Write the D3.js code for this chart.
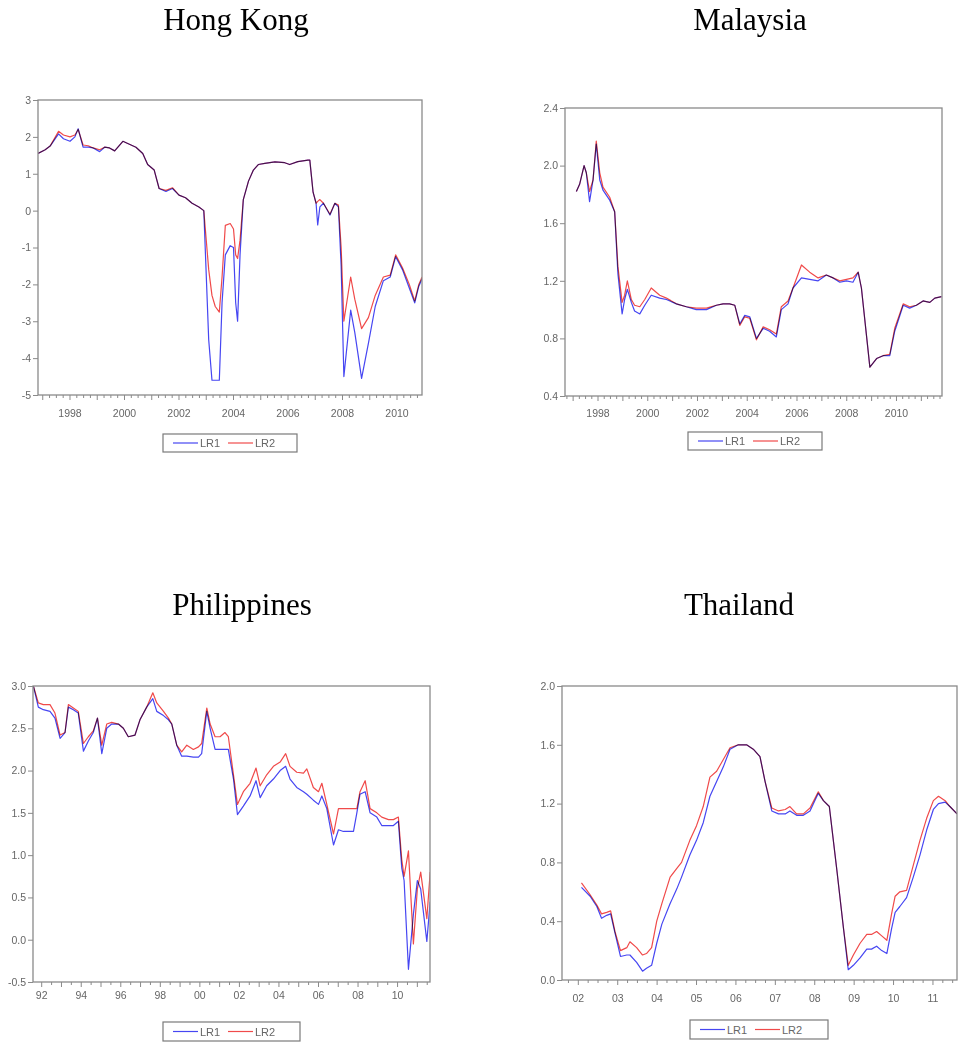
<!DOCTYPE html>
<html><head><meta charset="utf-8">
<script src="https://cdn.jsdelivr.net/npm/d3@7"></script>
<style>body{margin:0;background:#fff} svg{display:block}</style>
</head><body><svg id="c" width="959" height="1051"></svg>
<script>
// ---------- DATA ----------
const seriesNames = ["LR1", "LR2"];
const seriesColors = ["#4646f2", "#f04a4a"];

// Hong Kong
const hkTime = [1996.83,1997.09,1997.27,1997.58,1997.76,1998.0,1998.18,1998.3,1998.48,1998.67,1998.85,1999.09,1999.27,1999.45,1999.64,1999.94,2000.18,2000.42,2000.67,2000.85,2001.09,2001.27,2001.52,2001.76,2002.0,2002.24,2002.48,2002.73,2002.91,2003.09,2003.21,2003.33,2003.48,2003.58,2003.7,2003.88,2004.0,2004.08,2004.15,2004.24,2004.36,2004.55,2004.73,2004.91,2005.15,2005.52,2005.88,2006.06,2006.36,2006.73,2006.8,2006.92,2007.03,2007.09,2007.17,2007.3,2007.54,2007.72,2007.85,2007.95,2008.05,2008.3,2008.45,2008.7,2008.95,2009.2,2009.5,2009.75,2009.95,2010.2,2010.45,2010.65,2010.8,2010.92];
const hkLR1 = [1.55,1.65,1.75,2.08,1.95,1.88,2.0,2.22,1.72,1.72,1.7,1.6,1.72,1.7,1.62,1.88,1.8,1.72,1.55,1.25,1.1,0.6,0.52,0.6,0.42,0.35,0.2,0.1,0.0,-3.5,-4.6,-4.6,-4.6,-2.5,-1.2,-0.95,-1.0,-2.5,-3.0,-1.2,0.3,0.8,1.1,1.25,1.28,1.32,1.3,1.25,1.33,1.37,1.37,0.5,0.2,-0.39,0.1,0.2,-0.12,0.2,0.1,-1.5,-4.5,-2.7,-3.3,-4.55,-3.6,-2.6,-1.9,-1.8,-1.25,-1.6,-2.1,-2.5,-2.05,-1.85];
const hkLR2 = [1.55,1.65,1.75,2.15,2.05,2.0,2.05,2.2,1.78,1.76,1.7,1.65,1.72,1.7,1.62,1.88,1.8,1.72,1.55,1.25,1.1,0.6,0.55,0.62,0.42,0.35,0.2,0.1,0.0,-1.6,-2.3,-2.6,-2.75,-1.8,-0.4,-0.35,-0.5,-1.2,-1.3,-0.8,0.3,0.8,1.1,1.25,1.28,1.32,1.3,1.25,1.33,1.37,1.37,0.5,0.2,0.25,0.3,0.2,-0.1,0.2,0.15,-1.0,-3.0,-1.8,-2.4,-3.2,-2.9,-2.3,-1.8,-1.75,-1.2,-1.55,-2.0,-2.45,-2.0,-1.8];
const hkYTicks = [-5,-4,-3,-2,-1,0,1,2,3];
const hkXTicks = [1998,2000,2002,2004,2006,2008,2010];
const hkXLabels = ["1998","2000","2002","2004","2006","2008","2010"];

// Malaysia
const myTime = [1997.13,1997.26,1997.44,1997.53,1997.66,1997.8,1997.93,1998.07,1998.2,1998.47,1998.67,1998.8,1998.97,1999.07,1999.18,1999.34,1999.47,1999.68,1999.88,2000.14,2000.48,2000.75,2001.15,2001.55,2001.95,2002.36,2002.76,2003.03,2003.29,2003.5,2003.7,2003.9,2004.1,2004.37,2004.64,2004.9,2005.17,2005.37,2005.64,2005.84,2006.18,2006.51,2006.85,2007.18,2007.45,2007.72,2007.99,2008.25,2008.46,2008.59,2008.93,2009.2,2009.46,2009.73,2009.93,2010.27,2010.53,2010.8,2011.07,2011.34,2011.54,2011.81];
const myLR1 = [1.82,1.87,2.0,1.95,1.75,1.9,2.15,1.9,1.83,1.76,1.68,1.25,0.97,1.07,1.14,1.05,0.99,0.97,1.03,1.1,1.08,1.07,1.04,1.02,1.0,1.0,1.03,1.04,1.04,1.03,0.9,0.96,0.95,0.8,0.87,0.85,0.81,1.0,1.04,1.15,1.22,1.21,1.2,1.24,1.22,1.19,1.2,1.19,1.26,1.15,0.6,0.66,0.68,0.68,0.85,1.03,1.01,1.03,1.06,1.05,1.08,1.09];
const myLR2 = [1.82,1.87,2.0,1.95,1.82,1.9,2.17,1.95,1.85,1.78,1.68,1.3,1.05,1.1,1.2,1.07,1.03,1.02,1.07,1.15,1.1,1.08,1.04,1.02,1.01,1.01,1.03,1.04,1.04,1.03,0.89,0.95,0.94,0.79,0.88,0.86,0.83,1.02,1.06,1.15,1.31,1.26,1.22,1.24,1.22,1.2,1.21,1.22,1.26,1.15,0.6,0.66,0.68,0.69,0.87,1.04,1.02,1.03,1.06,1.05,1.08,1.09];
const myYTicks = [0.4,0.8,1.2,1.6,2.0,2.4];
const myXTicks = [1998,2000,2002,2004,2006,2008,2010];
const myXLabels = ["1998","2000","2002","2004","2006","2008","2010"];

// Philippines
const phTime = [1991.58,1991.83,1992.08,1992.42,1992.67,1992.93,1993.18,1993.35,1993.6,1993.85,1994.11,1994.36,1994.61,1994.82,1995.04,1995.29,1995.54,1995.88,1996.13,1996.38,1996.72,1996.97,1997.31,1997.62,1997.82,1998.16,1998.41,1998.58,1998.83,1999.08,1999.34,1999.67,1999.93,2000.09,2000.35,2000.52,2000.77,2001.02,2001.27,2001.44,2001.7,2001.9,2002.2,2002.54,2002.84,2003.05,2003.38,2003.72,2004.06,2004.34,2004.56,2004.9,2005.24,2005.41,2005.74,2006.0,2006.17,2006.42,2006.76,2007.01,2007.26,2007.77,2007.94,2008.1,2008.36,2008.61,2008.95,2009.2,2009.54,2009.79,2010.04,2010.21,2010.33,2010.55,2010.8,2011.0,2011.17,2011.48,2011.65];
const phLR1 = [3.0,2.75,2.72,2.7,2.62,2.38,2.45,2.75,2.72,2.68,2.23,2.35,2.45,2.62,2.2,2.5,2.55,2.55,2.5,2.4,2.42,2.6,2.75,2.85,2.7,2.65,2.6,2.55,2.3,2.17,2.17,2.16,2.16,2.2,2.7,2.5,2.25,2.25,2.25,2.25,1.9,1.48,1.58,1.7,1.88,1.68,1.82,1.9,2.0,2.05,1.9,1.8,1.75,1.72,1.65,1.6,1.7,1.55,1.12,1.3,1.28,1.28,1.5,1.72,1.75,1.5,1.45,1.35,1.35,1.35,1.4,0.85,0.7,-0.35,0.3,0.7,0.6,-0.02,0.45];
const phLR2 = [3.0,2.8,2.78,2.78,2.68,2.42,2.45,2.78,2.74,2.7,2.32,2.4,2.47,2.62,2.3,2.55,2.57,2.55,2.5,2.4,2.42,2.6,2.75,2.92,2.8,2.7,2.62,2.55,2.3,2.22,2.3,2.25,2.28,2.32,2.74,2.55,2.4,2.4,2.45,2.4,1.95,1.6,1.75,1.85,2.03,1.82,1.95,2.05,2.1,2.2,2.05,1.98,1.97,2.02,1.8,1.75,1.85,1.6,1.25,1.55,1.55,1.55,1.55,1.75,1.88,1.55,1.5,1.45,1.42,1.42,1.45,0.95,0.75,1.05,-0.05,0.6,0.8,0.25,0.8];
const phYTicks = [-0.5,0.0,0.5,1.0,1.5,2.0,2.5,3.0];
const phXTicks = [1992,1994,1996,1998,2000,2002,2004,2006,2008,2010];
const phXLabels = ["92","94","96","98","00","02","04","06","08","10"];

// Thailand
const thTime = [2002.08,2002.3,2002.47,2002.59,2002.72,2002.82,2002.93,2003.07,2003.23,2003.31,2003.48,2003.63,2003.73,2003.86,2003.99,2004.12,2004.33,2004.5,2004.62,2004.83,2005.0,2005.17,2005.34,2005.51,2005.68,2005.85,2006.06,2006.27,2006.44,2006.61,2006.74,2006.91,2007.08,2007.25,2007.37,2007.54,2007.71,2007.88,2008.09,2008.22,2008.37,2008.56,2008.73,2008.85,2008.98,2009.15,2009.32,2009.44,2009.57,2009.7,2009.83,2009.95,2010.04,2010.16,2010.33,2010.5,2010.67,2010.84,2011.01,2011.14,2011.31,2011.43,2011.61];
const thLR1 = [0.63,0.57,0.5,0.42,0.44,0.45,0.32,0.16,0.17,0.17,0.12,0.06,0.08,0.1,0.25,0.38,0.52,0.62,0.7,0.85,0.95,1.07,1.25,1.35,1.45,1.57,1.6,1.6,1.57,1.52,1.35,1.15,1.13,1.13,1.15,1.12,1.12,1.15,1.27,1.22,1.18,0.75,0.35,0.07,0.1,0.15,0.21,0.21,0.23,0.2,0.18,0.35,0.46,0.5,0.56,0.7,0.85,1.02,1.16,1.2,1.21,1.18,1.13];
const thLR2 = [0.66,0.58,0.51,0.45,0.46,0.47,0.33,0.2,0.22,0.26,0.22,0.17,0.18,0.22,0.4,0.52,0.7,0.76,0.8,0.95,1.05,1.18,1.38,1.42,1.5,1.58,1.6,1.6,1.57,1.52,1.35,1.17,1.15,1.16,1.18,1.13,1.13,1.17,1.28,1.22,1.18,0.75,0.35,0.1,0.17,0.25,0.31,0.31,0.33,0.3,0.27,0.45,0.57,0.6,0.61,0.78,0.95,1.1,1.22,1.25,1.22,1.18,1.13];
const thYTicks = [0.0,0.4,0.8,1.2,1.6,2.0];
const thXTicks = [2002,2003,2004,2005,2006,2007,2008,2009,2010,2011];
const thXLabels = ["02","03","04","05","06","07","08","09","10","11"];

// ---------- LAYOUT ----------
const hyph = f => (v => f(v).replace("\u2212", "-"));
const panels = [
  {id:"hk", title:"Hong Kong", titleX:236, titleY:30,
   left:38, right:422, top:100, bottom:395, xDomain:[1996.826,2010.917], yDomain:[-5,3],
   time:hkTime, s:[hkLR1,hkLR2], yTicks:hkYTicks, yFmt:hyph(d3.format("d")),
   xTicks:hkXTicks, xLabels:hkXLabels, minorStep:0.25, labelY:417,
   legend:{x:163,y:434,w:134,h:18}},
  {id:"my", title:"Malaysia", titleX:750, titleY:30,
   left:565, right:942, top:108, bottom:396, xDomain:[1996.673,2011.83], yDomain:[0.4,2.4],
   time:myTime, s:[myLR1,myLR2], yTicks:myYTicks, yFmt:hyph(d3.format(".1f")),
   xTicks:myXTicks, xLabels:myXLabels, minorStep:0.25, labelY:417,
   legend:{x:688,y:432,w:134,h:18}},
  {id:"ph", title:"Philippines", titleX:242, titleY:615,
   left:33, right:430, top:686, bottom:982, xDomain:[1991.56,2011.64], yDomain:[-0.5,3.0],
   time:phTime, s:[phLR1,phLR2], yTicks:phYTicks, yFmt:hyph(d3.format(".1f")),
   xTicks:phXTicks, xLabels:phXLabels, minorStep:0.5, labelY:999,
   legend:{x:163,y:1022,w:137,h:19}},
  {id:"th", title:"Thailand", titleX:739, titleY:615,
   left:562, right:957, top:686, bottom:980, xDomain:[2001.586,2011.61], yDomain:[0.0,2.0],
   time:thTime, s:[thLR1,thLR2], yTicks:thYTicks, yFmt:hyph(d3.format(".1f")),
   xTicks:thXTicks, xLabels:thXLabels, minorStep:0.25, labelY:1002,
   legend:{x:690,y:1020,w:138,h:19}}
];

const svg = d3.select("#c");
const axisFont = "'Liberation Sans', Arial, sans-serif";
const axisColor = "#666";

panels.forEach(p => {
  const x = d3.scaleLinear().domain(p.xDomain).range([p.left, p.right]);
  const y = d3.scaleLinear().domain(p.yDomain).range([p.bottom, p.top]);
  const g = svg.append("g");

  svg.append("text").attr("x", p.titleX).attr("y", p.titleY)
    .attr("text-anchor", "middle")
    .style("font-family", "'Liberation Serif','Times New Roman',serif")
    .style("font-size", "31px").style("fill", "#000").text(p.title);

  svg.append("clipPath").attr("id", "clip-" + p.id)
    .append("rect").attr("x", p.left).attr("y", p.top)
    .attr("width", p.right - p.left).attr("height", p.bottom - p.top);

  const lines = g.append("g").attr("clip-path", `url(#clip-${p.id})`);
  [1, 0].forEach(k => {
    const data = p.time.map((t, i) => [t, p.s[k][i]]);
    lines.append("path").datum(data)
      .attr("fill", "none").attr("stroke", seriesColors[k])
      .attr("stroke-width", 1.2).attr("stroke-linejoin", "round")
      .style("mix-blend-mode", "multiply")
      .attr("d", d3.line().x(d => x(d[0])).y(d => y(d[1])));
  });

  g.append("rect").attr("x", p.left).attr("y", p.top)
    .attr("width", p.right - p.left).attr("height", p.bottom - p.top)
    .attr("fill", "none").attr("stroke", "#8a8a8a").attr("stroke-width", 1.3);

  const ya = g.append("g").attr("transform", `translate(${p.left},0)`)
    .call(d3.axisLeft(y).tickValues(p.yTicks).tickFormat(p.yFmt).tickSize(5).tickPadding(2));
  ya.select(".domain").remove();
  ya.selectAll("line").attr("stroke", "#8a8a8a");
  ya.selectAll("text").style("font-family", axisFont).style("font-size", "10.5px").attr("fill", axisColor);

  const x0 = Math.ceil(p.xDomain[0] / p.minorStep) * p.minorStep;
  const minor = d3.range(x0, p.xDomain[1] + 1e-6, p.minorStep);
  const xa = g.append("g").attr("transform", `translate(0,${p.bottom})`);
  xa.selectAll("line.mn").data(minor).join("line").attr("class", "mn")
    .attr("x1", d => x(d)).attr("x2", d => x(d))
    .attr("y1", 0).attr("y2", d => Math.abs(d - Math.round(d)) < 1e-6 ? 5 : 3)
    .attr("stroke", "#8a8a8a").attr("stroke-width", 1);
  xa.selectAll("text").data(p.xTicks).join("text")
    .attr("x", d => x(d)).attr("y", p.labelY - p.bottom)
    .attr("text-anchor", "middle")
    .style("font-family", axisFont).style("font-size", "10.5px").attr("fill", axisColor)
    .text((d, i) => p.xLabels[i]);

  const L = p.legend;
  const lg = g.append("g").attr("transform", `translate(${L.x},${L.y})`);
  lg.append("rect").attr("width", L.w).attr("height", L.h)
    .attr("fill", "#fff").attr("stroke", "#7a7a7a").attr("stroke-width", 1.2);
  seriesNames.forEach((name, k) => {
    const ox = 10 + k * 55;
    lg.append("line").attr("x1", ox).attr("x2", ox + 25)
      .attr("y1", L.h / 2).attr("y2", L.h / 2)
      .attr("stroke", seriesColors[k]).attr("stroke-width", 1.2);
    lg.append("text").attr("x", ox + 27).attr("y", L.h / 2 + 4)
      .style("font-family", axisFont).style("font-size", "11px").attr("fill", axisColor)
      .text(name);
  });
});
</script>
</body></html>
